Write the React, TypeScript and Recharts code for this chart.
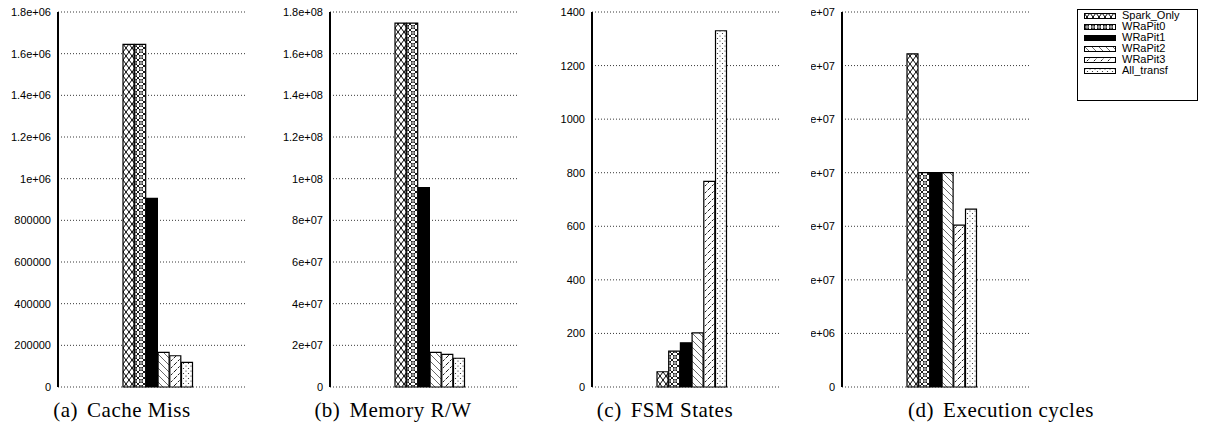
import React from 'react';
import { BarChart, Bar, XAxis, YAxis, CartesianGrid, Legend } from 'recharts';

const seriesNames = ['Spark_Only', 'WRaPit0', 'WRaPit1', 'WRaPit2', 'WRaPit3', 'All_transf'];

const cacheMiss = [1645000, 1645000, 905000, 166000, 150000, 118000];
const memoryRW = [174700000, 174700000, 95700000, 16600000, 15700000, 13800000];
const fsmStates = [57, 134, 165, 202, 768, 1330];
const execCycles = [31100000, 20000000, 20000000, 20000000, 15100000, 16600000];

const cacheTicks = [0, 200000, 400000, 600000, 800000, 1000000, 1200000, 1400000, 1600000, 1800000];
const cacheTickLabels = ['0', '200000', '400000', '600000', '800000', '1e+06', '1.2e+06', '1.4e+06', '1.6e+06', '1.8e+06'];
const memTicks = [0, 2e7, 4e7, 6e7, 8e7, 1e8, 1.2e8, 1.4e8, 1.6e8, 1.8e8];
const memTickLabels = ['0', '2e+07', '4e+07', '6e+07', '8e+07', '1e+08', '1.2e+08', '1.4e+08', '1.6e+08', '1.8e+08'];
const fsmTicks = [0, 200, 400, 600, 800, 1000, 1200, 1400];
const fsmTickLabels = ['0', '200', '400', '600', '800', '1000', '1200', '1400'];
const execTicks = [0, 5e6, 1e7, 1.5e7, 2e7, 2.5e7, 3e7, 3.5e7];
const execTickLabels = ['0', '5e+06', '1e+07', '1.5e+07', '2e+07', '2.5e+07', '3e+07', '3.5e+07'];

const captionTags = ['(a)', '(b)', '(c)', '(d)'];
const captionTexts = ['Cache Miss', 'Memory R/W', 'FSM States', 'Execution cycles'];

const fills = ['url(#pSpark)', 'url(#pW0)', '#000000', 'url(#pW2)', 'url(#pW3)', 'url(#pAll)'];

const toRow = (values: number[]) => {
  const row: Record<string, any> = { cat: 'x' };
  seriesNames.forEach((n, i) => (row[n] = values[i]));
  return [row];
};

const panels = [
  { values: cacheMiss, ticks: cacheTicks, labels: cacheTickLabels, left: 0, capCenter: 122, clip: false, legend: false },
  { values: memoryRW, ticks: memTicks, labels: memTickLabels, left: 272, capCenter: 393, clip: false, legend: false },
  { values: fsmStates, ticks: fsmTicks, labels: fsmTickLabels, left: 534, capCenter: 665, clip: false, legend: false },
  { values: execCycles, ticks: execTicks, labels: execTickLabels, left: 784, capCenter: 1001, clip: true, legend: true },
];

const FONT = '"Liberation Sans", Arial, Helvetica, sans-serif';
const SERIF = '"Liberation Serif", "Times New Roman", serif';

const makeTick = (ticks: number[], labels: string[], clip: boolean) => (props: any) => {
  const { x, y, payload } = props;
  const idx = ticks.indexOf(payload.value);
  const label = idx >= 0 ? labels[idx] : String(payload.value);
  return (
    <g clipPath={clip ? 'url(#clipD)' : undefined}>
      <text x={x} y={y} dy="0.36em" textAnchor="end" fill="#000" fontSize={11} fontFamily={FONT}>
        {label}
      </text>
    </g>
  );
};

const LegendBox = () => (
  <div
    style={{
      width: 121,
      height: 92,
      border: '1px solid #000',
      background: '#fff',
      boxSizing: 'border-box',
      paddingTop: 0,
    }}
  >
    {seriesNames.map((n, i) => (
      <div key={n} style={{ height: 11, display: 'flex', alignItems: 'center', lineHeight: '11px' }}>
        <svg width={32} height={6} style={{ marginLeft: 6, marginRight: 6, display: 'block' }}>
          <rect x={0.5} y={0.5} width={31} height={5} fill={fills[i]} stroke="#000" strokeWidth={1} />
        </svg>
        <span style={{ fontFamily: FONT, fontSize: 11, color: '#000' }}>{n}</span>
      </div>
    ))}
  </div>
);

const Defs = () => (
  <svg width={0} height={0} style={{ position: 'absolute', left: 0, top: 0 }}>
    <defs>
      <pattern id="pSpark" patternUnits="userSpaceOnUse" width={6} height={8}>
        <rect width={6} height={8} fill="#fff" />
        <path d="M0,0 L6,8 M6,0 L0,8" stroke="#000" strokeWidth={1} />
      </pattern>
      <pattern id="pW0" patternUnits="userSpaceOnUse" width={6} height={6}>
        <rect width={6} height={6} fill="#fff" />
        <path d="M0,0 L6,6 M6,0 L0,6" stroke="#000" strokeWidth={0.9} />
        <circle cx={3} cy={3} r={1.4} fill="#fff" stroke="#000" strokeWidth={0.8} />
      </pattern>
      <pattern id="pW2" patternUnits="userSpaceOnUse" width={7} height={7}>
        <rect width={7} height={7} fill="#fff" />
        <path d="M0,0 L7,7 M-1,6 L1,8 M6,-1 L8,1" stroke="#444" strokeWidth={0.8} />
      </pattern>
      <pattern id="pW3" patternUnits="userSpaceOnUse" width={7} height={7}>
        <rect width={7} height={7} fill="#fff" />
        <path d="M0,7 L7,0" stroke="#000" strokeWidth={0.9} strokeDasharray="2.5 1.5" />
      </pattern>
      <pattern id="pAll" patternUnits="userSpaceOnUse" width={5} height={5}>
        <rect width={5} height={5} fill="#fff" />
        <circle cx={1} cy={1} r={0.6} fill="#222" />
        <circle cx={3.5} cy={3.5} r={0.6} fill="#222" />
      </pattern>
      <clipPath id="clipD" clipPathUnits="userSpaceOnUse">
        <rect x={27} y={0} width={400} height={425} />
      </clipPath>
    </defs>
  </svg>
);

export default function App() {
  return (
    <div
      style={{
        position: 'absolute',
        left: 0,
        top: 0,
        width: 1208,
        height: 425,
        background: '#fff',
        overflow: 'hidden',
      }}
    >
      <Defs />
      {panels.map((p, pi) => {
        const width = p.legend ? 424 : 248;
        return (
          <div key={pi} style={{ position: 'absolute', left: p.left, top: 0 }}>
            <BarChart
              width={width}
              height={400}
              data={toRow(p.values)}
              margin={{ top: 12, right: p.legend ? 178 : 2, bottom: 13, left: 0 }}
              barCategoryGap={53}
              barGap={0.7}
            >
              <CartesianGrid horizontal vertical={false} stroke="#222" strokeDasharray="1 2" strokeWidth={0.9} />
              <XAxis
                dataKey="cat"
                tick={false}
                tickLine={false}
                height={0}
                padding={{ left: 12, right: 0 }}
                stroke="#000"
                strokeWidth={2}
                axisLine={{ stroke: '#000', strokeWidth: 2 }}
              />
              <YAxis
                width={58}
                domain={[0, p.ticks[p.ticks.length - 1]]}
                ticks={p.ticks}
                interval={0}
                tickLine={false}
                tickSize={0}
                tickMargin={7}
                stroke="#000"
                strokeWidth={2}
                axisLine={{ stroke: '#000', strokeWidth: 2 }}
                tick={makeTick(p.ticks, p.labels, p.clip)}
              />
              {p.legend && (
                <Legend
                  layout="vertical"
                  align="center"
                  verticalAlign="middle"
                  content={() => <LegendBox />}
                  wrapperStyle={{ left: 293, top: 9, width: 121, height: 92 }}
                />
              )}
              {seriesNames.map((n, i) => (
                <Bar
                  key={n}
                  dataKey={n}
                  name={n}
                  fill={fills[i]}
                  stroke="#000"
                  strokeWidth={1.2}
                  isAnimationActive={false}
                />
              ))}
            </BarChart>
          </div>
        );
      })}
      {captionTexts.map((t, i) => (
        <div
          key={t}
          style={{
            position: 'absolute',
            left: panels[i].capCenter - 150,
            width: 300,
            top: 400,
            textAlign: 'center',
            fontFamily: SERIF,
            fontSize: 21,
            lineHeight: '21px',
            letterSpacing: 0.5,
            color: '#000',
            whiteSpace: 'nowrap',
          }}
        >
          <span>{captionTags[i]}</span>
          <span style={{ marginLeft: 9 }}>{t}</span>
        </div>
      ))}
    </div>
  );
}
